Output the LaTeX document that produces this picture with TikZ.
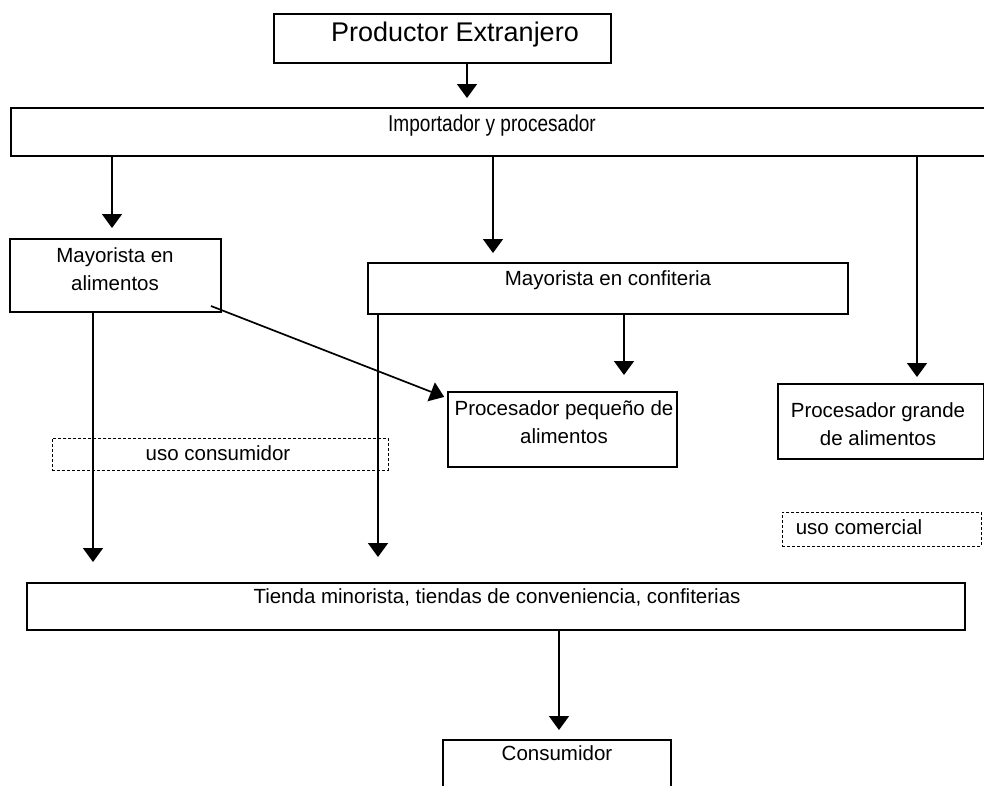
\documentclass[tikz,border=0pt]{standalone}
\usepackage{fontspec}
\setmainfont{Liberation Sans}
\usetikzlibrary{arrows.meta}
\tikzset{
  box/.style={draw=black, line width=1.7pt, rectangle, inner sep=0pt, anchor=north west},
  dbox/.style={draw=black, line width=0.8pt, dash pattern=on 3pt off 2pt, rectangle, inner sep=0pt, anchor=north west},
  txt/.style={font=\fontsize{20.5}{28}\selectfont, align=center, inner sep=0pt, text height=0.72em, text depth=0.2em},
  txttwo/.style={font=\fontsize{20.5}{28}\selectfont, align=center, inner sep=0pt},
  bigtxt/.style={font=\fontsize{27}{32}\selectfont, inner sep=0pt, text height=0.72em, text depth=0.2em},
  arr/.style={line width=1.7pt, -{Triangle[width=20pt,length=14pt]}}
}
\begin{document}
\begin{tikzpicture}[x=1pt,y=-1pt]
\useasboundingbox (0,0) rectangle (984,785);
% boxes
\node[box, minimum width=337pt, minimum height=49pt] (prod) at (273,13) {};
\node[box, minimum width=990pt, minimum height=48pt] (imp) at (10,107) {};
\node[box, minimum width=211pt, minimum height=73pt] (malim) at (9,238) {};
\node[box, minimum width=480pt, minimum height=51pt] (mconf) at (367,262) {};
\node[box, minimum width=229pt, minimum height=75pt] (ppeq) at (447,391) {};
\node[box, minimum width=206pt, minimum height=75pt] (pgr) at (777,383) {};
\node[box, minimum width=938pt, minimum height=47pt] (tienda) at (26,582) {};
\node[box, minimum width=228pt, minimum height=70pt] (cons) at (442,739) {};
\node[dbox, minimum width=336pt, minimum height=32pt] (ucons) at (52,438) {};
\node[dbox, minimum width=199pt, minimum height=34pt] (ucom) at (782,512) {};
% texts
\node[bigtxt] (tprod) at (455,39) {Productor Extranjero};
\node[txt] (timp) at (492,129) {\scalebox{0.93}[1.12]{Importador y procesador}};
\node[txttwo] (tmalim) at (115,269) {Mayorista en\\alimentos};
\node[txt] (tmconf) at (608,283) {Mayorista en confiteria};
\node[txttwo] (tppeq) at (564,422) {Procesador pequeño de\\alimentos};
\node[txttwo] (tpgr) at (878,424) {Procesador grande\\de alimentos};
\node[txt] (tucons) at (218,458) {uso consumidor};
\node[txt] (tucom) at (859,532) {uso comercial};
\node[txt] (ttienda) at (497,601) {Tienda minorista, tiendas de conveniencia, confiterias};
\node[txt] (tcons) at (557,758) {Consumidor};
% connectors
\draw[arr, shorten >=9pt] (467,0 |- prod.south) -- (467,0 |- imp.north);
\draw[arr, shorten >=10pt] (112,0 |- imp.south) -- (112,0 |- malim.north);
\draw[arr, shorten >=9pt] (493,0 |- imp.south) -- (493,0 |- mconf.north);
\draw[arr, shorten >=6pt] (917,0 |- imp.south) -- (917,0 |- pgr.north);
\draw[arr, shorten >=16pt] (624,0 |- mconf.south) -- (624,0 |- ppeq.north);
\draw[arr, shorten >=20pt] (93,0 |- malim.south) -- (93,0 |- tienda.north);
\draw[arr, shorten >=25pt] (378,0 |- mconf.south) -- (378,0 |- tienda.north);
\draw[arr, shorten >=9pt] (559,0 |- tienda.south) -- (559,0 |- cons.north);
\coordinate (dstart) at (211,306);
\draw[arr, shorten >=3pt] (dstart) -- (ppeq.west |- 0,398);
\end{tikzpicture}
\end{document}
